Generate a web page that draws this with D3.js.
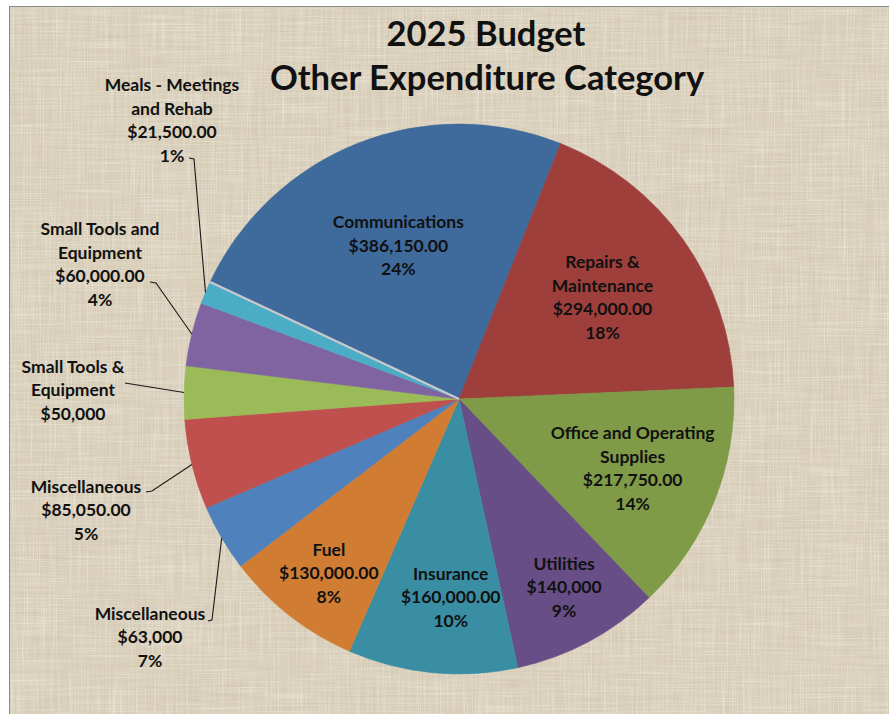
<!DOCTYPE html>
<html>
<head>
<meta charset="utf-8">
<script src="https://cdn.jsdelivr.net/npm/d3@7/dist/d3.min.js"></script>
<style>
  html, body { margin: 0; padding: 0; background: #ffffff; }
  svg { display: block; }
  text { font-family: Lato, "Open Sans", "Noto Sans", sans-serif; font-weight: bold; fill: #111; }
</style>
</head>
<body>
<svg id="chart" width="889" height="714"></svg>
<script>
// Budget categories, clockwise from the Communications slice
const categories = [
  "Communications",
  "Repairs &\nMaintenance",
  "Office and Operating\nSupplies",
  "Utilities",
  "Insurance",
  "Fuel",
  "Miscellaneous",
  "Miscellaneous",
  "Small Tools &\nEquipment",
  "Small Tools and\nEquipment",
  "Meals - Meetings\nand Rehab"
];
const values = [386150, 294000, 217750, 140000, 160000, 130000, 63000, 85050, 50000, 60000, 21500];
const valueLabels = ["$386,150.00", "$294,000.00", "$217,750.00", "$140,000", "$160,000.00",
  "$130,000.00", "$63,000", "$85,050.00", "$50,000", "$60,000.00", "$21,500.00"];
const percentLabels = ["24%", "18%", "14%", "9%", "10%", "8%", "7%", "5%", "", "4%", "1%"];
const colors = ["#3F6A9C", "#9E3F3C", "#7F9B47", "#684E87", "#3A8EA4", "#D07D33",
  "#4F81BD", "#C0504D", "#9BBB59", "#8064A2", "#4BACC6"];
const titleLines = ["2025 Budget", "Other Expenditure Category"];

// Layout
const W = 889, H = 714;
const cx = 459, cy = 399, R = 275;
const startDeg = -64.8;
const lineH = 23.5;
const labelSize = "17.5px";
// inside labels: distance from centre along the slice bisector, plus a small nudge
const insideRadius = {0: 165, 1: 176, 2: 185, 3: 213, 4: 199, 5: 221};
const insideNudge = {2: [2, 0], 3: [5, 0], 4: [11, 0], 5: [6, 0]};
// outside labels: block centre, leader start and knee
const outside = {
  6:  {x: 150, y: 637, start: [208, 621], knee: [212, 620]},
  7:  {x: 86,  y: 510, start: [146, 492], knee: [152, 491]},
  8:  {x: 73,  y: 390, start: [125, 383], knee: [125, 383]},
  9:  {x: 100, y: 264, start: [150, 282], knee: [156, 283]},
  10: {x: 172, y: 120, start: [189, 158], knee: [194, 159]}
};

const svg = d3.select("#chart");
const defs = svg.append("defs");

// woven paper texture: horizontal and vertical fibre streaks
function streakFilter(id, freq, seed, rgb, gain, bias) {
  const f = defs.append("filter").attr("id", id)
    .attr("x", 0).attr("y", 0).attr("width", "100%").attr("height", "100%");
  f.append("feTurbulence").attr("type", "fractalNoise")
    .attr("baseFrequency", freq).attr("numOctaves", 2).attr("seed", seed);
  f.append("feColorMatrix").attr("type", "matrix").attr("values",
    `0 0 0 0 ${rgb[0]}  0 0 0 0 ${rgb[1]}  0 0 0 0 ${rgb[2]}  ${gain} 0 0 0 ${bias}`);
}
streakFilter("hDark", "0.012 0.7", 3, [0.55, 0.49, 0.40], 2.2, -1.05);
streakFilter("vDark", "0.7 0.012", 7, [0.55, 0.49, 0.40], 2.2, -1.05);
streakFilter("hLight", "0.015 0.7", 11, [0.97, 0.95, 0.89], 2.0, -0.95);
streakFilter("vLight", "0.7 0.015", 17, [0.97, 0.95, 0.89], 2.0, -0.95);

const frame = {x: 9.5, y: 6.5, w: W - 9, h: H - 6};
svg.append("rect").attr("x", frame.x).attr("y", frame.y).attr("width", frame.w).attr("height", frame.h)
  .attr("fill", "#DAD0BB");
["hDark", "vDark"].forEach(id => {
  svg.append("rect").attr("x", frame.x).attr("y", frame.y).attr("width", frame.w).attr("height", frame.h)
    .attr("filter", `url(#${id})`).attr("opacity", 0.4);
});
["hLight", "vLight"].forEach(id => {
  svg.append("rect").attr("x", frame.x).attr("y", frame.y).attr("width", frame.w).attr("height", frame.h)
    .attr("filter", `url(#${id})`).attr("opacity", 0.45);
});
svg.append("rect").attr("x", frame.x).attr("y", frame.y).attr("width", frame.w + 5).attr("height", frame.h + 5)
  .attr("fill", "none").attr("stroke", "#8a8a8a").attr("stroke-width", 1);

// Title
svg.append("text").attr("x", 486).attr("y", 46).attr("text-anchor", "middle")
  .style("font-size", "34.5px").text(titleLines[0]);
svg.append("text").attr("x", 487).attr("y", 90).attr("text-anchor", "middle")
  .style("font-size", "34.5px").text(titleLines[1]);

// Pie
const rad = d => d * Math.PI / 180;
const pie = d3.pie().sort(null).value(d => d.value)
  .startAngle(rad(startDeg)).endAngle(rad(startDeg + 360));
const data = categories.map((c, i) => ({
  name: c, value: values[i], money: valueLabels[i], pct: percentLabels[i], color: colors[i], i
}));
const arcs = pie(data);
const arc = d3.arc().innerRadius(0).outerRadius(R);

const g = svg.append("g").attr("transform", `translate(${cx},${cy})`);
g.selectAll("path.slice").data(arcs).join("path")
  .attr("class", "slice")
  .attr("d", arc)
  .attr("fill", d => d.data.color)
  .attr("stroke", d => d.data.color)
  .attr("stroke-width", 0.6);

// thin light divider where the last slice meets the first
const closeAngle = arcs[arcs.length - 1].endAngle;
g.append("line")
  .attr("x1", 0).attr("y1", 0)
  .attr("x2", R * Math.sin(closeAngle)).attr("y2", -R * Math.cos(closeAngle))
  .attr("stroke", "#C9C9CC").attr("stroke-width", 2.2);

const polar = (a, r) => [cx + r * Math.sin(a), cy - r * Math.cos(a)];

// Labels
arcs.forEach(d => {
  const i = d.data.i;
  const lines = d.data.name.split("\n").concat([d.data.money]);
  if (d.data.pct) lines.push(d.data.pct);
  const mid = (d.startAngle + d.endAngle) / 2;
  let px, py;
  if (insideRadius[i] !== undefined) {
    [px, py] = polar(mid, insideRadius[i]);
    const n = insideNudge[i] || [0, 0];
    px += n[0]; py += n[1];
  } else {
    const o = outside[i];
    px = o.x; py = o.y;
    const end = polar(mid, R);
    svg.append("polyline")
      .attr("points", [o.start, o.knee, end].map(p => p.join(",")).join(" "))
      .attr("fill", "none").attr("stroke", "#1a1a1a").attr("stroke-width", 1.1);
  }
  const t = svg.append("text").attr("text-anchor", "middle").style("font-size", labelSize);
  const top = py - (lines.length - 1) * lineH / 2;
  lines.forEach((ln, k) => {
    t.append("tspan").attr("x", px).attr("y", top + k * lineH).attr("dy", "0.36em").text(ln);
  });
});
</script>
</body>
</html>
